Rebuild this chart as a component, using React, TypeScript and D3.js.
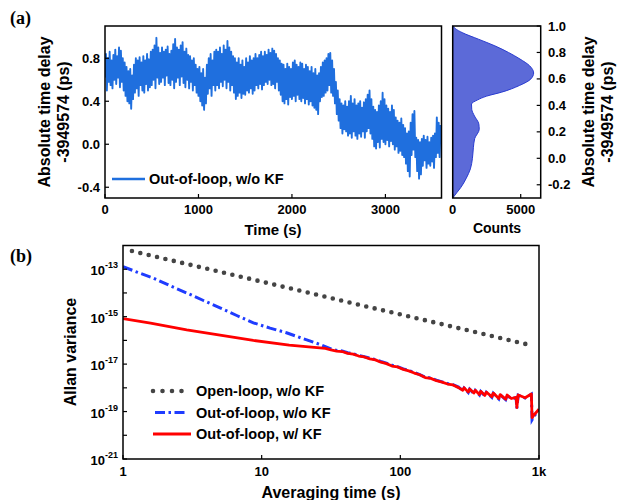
import React from 'react';
import * as d3 from 'd3';

// (a) out-of-loop absolute time delay (ps, offset -3949574), one sample every 10 s
const sampleStep = 10;
const delay = [
  0.62, 0.84, 0.50, 0.80, 0.58, 0.86, 0.55, 0.78, 0.52, 0.83,
  0.60, 0.88, 0.56, 0.82, 0.62, 0.90, 0.53, 0.87, 0.58, 0.80,
  0.50, 0.76, 0.45, 0.72, 0.40, 0.68, 0.38, 0.70, 0.33, 0.64,
  0.42, 0.74, 0.48, 0.80, 0.52, 0.78, 0.45, 0.81, 0.55, 0.76,
  0.50, 0.82, 0.48, 0.78, 0.56, 0.84, 0.50, 0.79, 0.53, 0.86,
  0.55, 0.88, 0.60, 0.92, 0.52, 0.99, 0.62, 0.90, 0.56, 0.85,
  0.58, 0.90, 0.62, 0.86, 0.55, 0.88, 0.64, 0.91, 0.57, 0.84,
  0.55, 0.87, 0.60, 0.93, 0.52, 0.98, 0.58, 0.90, 0.62, 0.88,
  0.55, 0.92, 0.63, 0.95, 0.57, 0.86, 0.53, 0.89, 0.60, 0.83,
  0.52, 0.82, 0.58, 0.78, 0.50, 0.80, 0.55, 0.74, 0.48, 0.70,
  0.45, 0.72, 0.40, 0.66, 0.36, 0.70, 0.32, 0.62, 0.38, 0.74,
  0.47, 0.80, 0.52, 0.84, 0.45, 0.78, 0.55, 0.86, 0.50, 0.88,
  0.55, 0.86, 0.52, 0.90, 0.58, 0.84, 0.54, 0.92, 0.60, 0.88,
  0.52, 0.96, 0.58, 0.90, 0.50, 0.86, 0.55, 0.82, 0.48, 0.80,
  0.42, 0.76, 0.45, 0.80, 0.48, 0.74, 0.43, 0.78, 0.47, 0.72,
  0.46, 0.80, 0.50, 0.76, 0.48, 0.82, 0.52, 0.78, 0.47, 0.80,
  0.50, 0.84, 0.55, 0.80, 0.52, 0.83, 0.56, 0.86, 0.51, 0.82,
  0.55, 0.86, 0.58, 0.83, 0.56, 0.88, 0.60, 0.85, 0.55, 0.89,
  0.56, 0.87, 0.52, 0.84, 0.58, 0.80, 0.50, 0.78, 0.46, 0.75,
  0.40, 0.74, 0.38, 0.70, 0.42, 0.75, 0.37, 0.72, 0.44, 0.70,
  0.42, 0.76, 0.45, 0.78, 0.40, 0.74, 0.46, 0.72, 0.42, 0.76,
  0.40, 0.75, 0.43, 0.70, 0.38, 0.74, 0.42, 0.72, 0.37, 0.68,
  0.40, 0.72, 0.36, 0.66, 0.34, 0.70, 0.32, 0.64, 0.28, 0.66,
  0.40, 0.72, 0.44, 0.76, 0.45, 0.78, 0.48, 0.80, 0.50, 0.84,
  0.55, 0.85, 0.48, 0.78, 0.45, 0.70, 0.38, 0.58, 0.28, 0.50,
  0.22, 0.42, 0.15, 0.38, 0.10, 0.36, 0.14, 0.40, 0.12, 0.35,
  0.08, 0.40, 0.10, 0.45, 0.06, 0.38, 0.12, 0.42, 0.08, 0.36,
  0.05, 0.38, 0.10, 0.40, 0.07, 0.34, 0.12, 0.39, 0.06, 0.42,
  0.12, 0.46, 0.15, 0.50, 0.10, 0.42, 0.05, 0.35, -0.02, 0.32,
  -0.04, 0.30, 0.02, 0.36, -0.03, 0.40, 0.05, 0.48, 0.02, 0.42,
  0.00, 0.36, 0.04, 0.33, -0.02, 0.30, 0.03, 0.36, 0.00, 0.32,
  -0.05, 0.25, -0.02, 0.22, -0.08, 0.20, -0.06, 0.24, -0.10, 0.18,
  -0.12, 0.15, -0.18, 0.10, -0.25, 0.12, -0.30, 0.20, -0.10, 0.28,
  -0.05, 0.31, -0.12, 0.06, -0.25, 0.04, -0.32, 0.02, -0.28, 0.05,
  -0.20, 0.08, -0.15, 0.04, -0.22, 0.07, -0.18, 0.02, -0.20, 0.06,
  -0.16, 0.08, -0.22, 0.10, -0.12, 0.25, -0.08, 0.20, -0.12, 0.18,
];

// side histogram of the delay
const histDelay = [-0.3, -0.26, -0.22, -0.15, -0.08, 0.0, 0.08, 0.15, 0.22, 0.26, 0.32, 0.37, 0.41, 0.44, 0.47, 0.5, 0.55, 0.6, 0.645, 0.7, 0.75, 0.8, 0.85, 0.9, 0.95, 0.98, 1.0];
const histCounts = [0, 300, 600, 1000, 1300, 1450, 1520, 1620, 1950, 1920, 1600, 1400, 1380, 1800, 2500, 3600, 4900, 5750, 5950, 5650, 4950, 4100, 3100, 1900, 700, 200, 40];

const delayTicks = [-0.4, 0.0, 0.4, 0.8];
const timeTicks = [0, 1000, 2000, 3000];
const histTicks = [-0.2, 0.0, 0.2, 0.4, 0.6, 0.8, 1.0];
const countTicks = [0, 5000];

// (b) Allan variance
const tauOpen = [1.16, 2, 5, 10, 20, 50, 100, 200, 500, 900];
const avarOpen = [5.9e-13, 2.75e-13, 7.8e-14, 3.0e-14, 1.15e-14, 3.2e-15, 1.25e-15, 4.8e-16, 1.35e-16, 6.0e-17];

const tauTail = [282, 288, 309, 316, 339, 347, 372, 380, 407, 417, 457, 468, 513, 525, 575, 589, 631, 684, 692, 708, 794, 881, 891, 933, 1000];
const tauMid = [31.6, 34.7, 38, 41.7, 45.7, 50.1, 55, 60.3, 66.1, 72.4, 79.4, 87.1, 95.5, 105, 115, 126, 138, 151, 166, 182, 200, 219, 240, 263];

const tauNoKF = [1, 1.26, 1.66, 2.19, 2.88, 3.8, 5.01, 6.61, 8.71, 11.5, 15.1, 20, 26.3, ...tauMid, ...tauTail];
const avarNoKF = [
  1.29e-13, 7.6e-14, 4.2e-14, 2.0e-14, 1.0e-14, 4.8e-15, 2.34e-15, 1.12e-15, 5.5e-16, 3.3e-16, 2.1e-16, 1.17e-16, 6.8e-17,
  4.4e-17, 3.8e-17, 3.6e-17, 3.0e-17, 2.7e-17, 2.34e-17, 2.04e-17, 1.78e-17, 1.55e-17, 1.29e-17, 1.1e-17, 8.9e-18,
  7.8e-18, 6.3e-18, 5.4e-18, 4.5e-18, 3.6e-18, 2.8e-18, 2.6e-18, 2.1e-18, 1.78e-18, 1.51e-18, 1.35e-18, 1.07e-18,
  7.6e-19, 9.8e-19, 6.3e-19, 8.7e-19, 5.8e-19, 7.8e-19, 5.0e-19, 7.0e-19, 4.6e-19, 6.5e-19, 4.0e-19, 5.9e-19,
  3.4e-19, 5.1e-19, 3.2e-19, 4.9e-19, 3.45e-19, 3.9e-19, 1.35e-19, 4.9e-19, 3.7e-19, 5.4e-19, 4.5e-20, 7.0e-20, 1.2e-19,
];

const tauKF = [1, 1.58, 2.88, 5.01, 8.71, 15.8, 28.8, ...tauMid, ...tauTail];
const avarKF = [
  8.3e-16, 5.4e-16, 2.8e-16, 1.66e-16, 1.0e-16, 6.3e-17, 4.6e-17,
  3.98e-17, 3.55e-17, 3.39e-17, 2.82e-17, 2.63e-17, 2.19e-17, 2.0e-17, 1.66e-17, 1.51e-17, 1.2e-17, 1.05e-17, 8.3e-18,
  7.6e-18, 6.0e-18, 5.2e-18, 4.2e-18, 3.55e-18, 2.7e-18, 2.5e-18, 2.0e-18, 1.74e-18, 1.45e-18, 1.32e-18, 1.02e-18,
  7.9e-19, 1.0e-18, 6.6e-19, 8.9e-19, 6.0e-19, 7.9e-19, 5.2e-19, 7.1e-19, 4.8e-19, 6.6e-19, 4.2e-19, 6.0e-19,
  3.55e-19, 5.2e-19, 3.3e-19, 5.0e-19, 3.55e-19, 4.0e-19, 1.48e-19, 5.0e-19, 3.8e-19, 5.5e-19, 5.6e-20, 7.9e-20, 1.26e-19,
];

const avarTicks = [1e-21, 1e-20, 1e-19, 1e-18, 1e-17, 1e-16, 1e-15, 1e-14, 1e-13];
const avarLabelExp = [-21, -19, -17, -15, -13];
const tauTicks = [1, 10, 100, 1000];
const tauTickLabels = ['1', '10', '100', '1k'];

const font = 'Arial, "Liberation Sans", sans-serif';
const traceBlue = '#1f6fde';
const histFill = '#5c6ad8';
const histEdge = '#2a3cd0';
const grey = '#444444';
const dashBlue = '#1f3cff';
const red = '#ff0000';

export default function App() {
  const xA = d3.scaleLinear().domain([0, 3600]).range([105, 441.5]);
  const yA = d3.scaleLinear().domain([-0.5, 1.1]).range([198, 26]);
  const xH = d3.scaleLinear().domain([0, 6470]).range([452.7, 540.7]);
  const yH = d3.scaleLinear().domain([-0.3, 1.0]).range([198, 26]);
  const xB = d3.scaleLog().domain([1, 1000]).range([123, 539]);
  const yB = d3.scaleLog().domain([1e-21, 1e-12]).range([459, 245.5]);

  const tracePath = d3
    .line<number>()
    .x((d, i) => xA(i * sampleStep))
    .y((d) => yA(d))(delay) as string;

  const histArea = d3
    .area<number>()
    .curve(d3.curveMonotoneY)
    .y((d, i) => yH(histDelay[i]))
    .x0(xH(0))
    .x1((d) => xH(d))(histCounts) as string;

  const logLine = (taus: number[], vals: number[]) =>
    d3
      .line<number>()
      .x((d, i) => xB(taus[i]))
      .y((d) => yB(d))(vals) as string;

  const tick = 4;
  const txt = { fontFamily: font, fontWeight: 700, fill: '#000' } as const;

  return (
    <svg width={619} height={500} style={{ position: 'absolute', left: 0, top: 0, background: '#fff' }}>
      {/* ---------- panel (a) ---------- */}
      <text x={10} y={24} fontFamily='"Liberation Serif", "Times New Roman", serif' fontWeight={700} fontSize={18}>(a)</text>

      <defs>
        <clipPath id="clipA">
          <rect x={105} y={26} width={336.5} height={172} />
        </clipPath>
      </defs>
      <path d={tracePath} fill="none" stroke={traceBlue} strokeWidth={1.9} strokeLinejoin="round" clipPath="url(#clipA)" />

      {delayTicks.map((t) => (
        <g key={'ya' + t}>
          <line x1={105} x2={105 + tick} y1={yA(t)} y2={yA(t)} stroke="#000" strokeWidth={1.2} />
          <text x={100} y={yA(t)} dy="0.35em" textAnchor="end" fontSize={13} {...txt}>{t.toFixed(1)}</text>
        </g>
      ))}
      {timeTicks.map((t) => (
        <g key={'xa' + t}>
          <line x1={xA(t)} x2={xA(t)} y1={198} y2={198 - tick} stroke="#000" strokeWidth={1.2} />
          <text x={xA(t)} y={214} textAnchor="middle" fontSize={13} {...txt}>{t}</text>
        </g>
      ))}
      <rect x={105} y={26} width={336.5} height={172} fill="none" stroke="#000" strokeWidth={1.5} />

      <line x1={112} x2={145} y1={179} y2={179} stroke={traceBlue} strokeWidth={2.5} />
      <text x={149} y={184} fontSize={14.5} {...txt}>Out-of-loop, w/o KF</text>

      <text x={273} y={235} textAnchor="middle" fontSize={15} {...txt}>Time (s)</text>
      <text transform="translate(50,112) rotate(-90)" textAnchor="middle" fontSize={16} {...txt}>Absolute time delay</text>
      <text transform="translate(69,112) rotate(-90)" textAnchor="middle" fontSize={16} {...txt}>-3949574 (ps)</text>

      {/* histogram */}
      <path d={histArea} fill={histFill} stroke={histEdge} strokeWidth={1} />
      {histTicks.map((t) => (
        <g key={'yh' + t}>
          <line x1={540.7} x2={540.7 - tick} y1={yH(t)} y2={yH(t)} stroke="#000" strokeWidth={1.2} />
          <text x={548} y={yH(t)} dy="0.35em" fontSize={13} {...txt}>{t.toFixed(1)}</text>
        </g>
      ))}
      {countTicks.map((t) => (
        <g key={'xh' + t}>
          <line x1={xH(t)} x2={xH(t)} y1={198} y2={198 - tick} stroke="#000" strokeWidth={1.2} />
          <text x={xH(t)} y={214} textAnchor="middle" fontSize={13} {...txt}>{t}</text>
        </g>
      ))}
      <rect x={452.7} y={26} width={88} height={172} fill="none" stroke="#000" strokeWidth={1.5} />
      <text x={497} y={233} textAnchor="middle" fontSize={14} {...txt}>Counts</text>
      <text transform="translate(594,112) rotate(-90)" textAnchor="middle" fontSize={16} {...txt}>Absolute time delay</text>
      <text transform="translate(613,112) rotate(-90)" textAnchor="middle" fontSize={16} {...txt}>-3949574 (ps)</text>

      {/* ---------- panel (b) ---------- */}
      <text x={10} y={262} fontFamily='"Liberation Serif", "Times New Roman", serif' fontWeight={700} fontSize={18}>(b)</text>

      <defs>
        <clipPath id="clipB">
          <rect x={123} y={245.5} width={416} height={213.5} />
        </clipPath>
      </defs>
      <g clipPath="url(#clipB)">
        <path d={logLine(tauOpen, avarOpen)} fill="none" stroke={grey} strokeWidth={4.6} strokeLinecap="round" strokeDasharray="0 8.6" />
        <path d={logLine(tauNoKF, avarNoKF)} fill="none" stroke={dashBlue} strokeWidth={3} strokeDasharray="10 3.5 2.5 3.5" />
        <path d={logLine(tauKF, avarKF)} fill="none" stroke={red} strokeWidth={2.8} strokeLinejoin="round" />
      </g>

      {avarTicks.map((t) => (
        <line key={'yb' + t} x1={123} x2={123 + tick} y1={yB(t)} y2={yB(t)} stroke="#000" strokeWidth={1.2} />
      ))}
      {avarLabelExp.map((e) => (
        <text key={'lb' + e} x={118} y={yB(Math.pow(10, e)) + 6} textAnchor="end" fontSize={13} {...txt}>
          10<tspan dy={-7} fontSize={9}>{e}</tspan>
        </text>
      ))}
      {tauTicks.map((t, i) => (
        <g key={'xb' + t}>
          <line x1={xB(t)} x2={xB(t)} y1={459} y2={459 - tick} stroke="#000" strokeWidth={1.2} />
          <text x={xB(t)} y={476} textAnchor="middle" fontSize={13} {...txt}>{tauTickLabels[i]}</text>
        </g>
      ))}
      <rect x={123} y={245.5} width={416} height={213.5} fill="none" stroke="#000" strokeWidth={1.5} />

      <text x={331} y={498} textAnchor="middle" fontSize={16} {...txt}>Averaging time (s)</text>
      <text transform="translate(76,352) rotate(-90)" textAnchor="middle" fontSize={16} {...txt}>Allan variance</text>

      {/* legend (b) */}
      <line x1={153} x2={184} y1={391} y2={391} stroke={grey} strokeWidth={4.6} strokeLinecap="round" strokeDasharray="0 9.5" />
      <text x={196} y={396} fontSize={14.5} {...txt}>Open-loop, w/o KF</text>
      <line x1={155} x2={188} y1={412.5} y2={412.5} stroke={dashBlue} strokeWidth={3} strokeDasharray="10 3.5 2.5 3.5" />
      <text x={196} y={417.5} fontSize={14.5} {...txt}>Out-of-loop, w/o KF</text>
      <line x1={153} x2={191} y1={434} y2={434} stroke={red} strokeWidth={2.8} />
      <text x={196} y={439} fontSize={14.5} {...txt}>Out-of-loop, w/ KF</text>
    </svg>
  );
}
